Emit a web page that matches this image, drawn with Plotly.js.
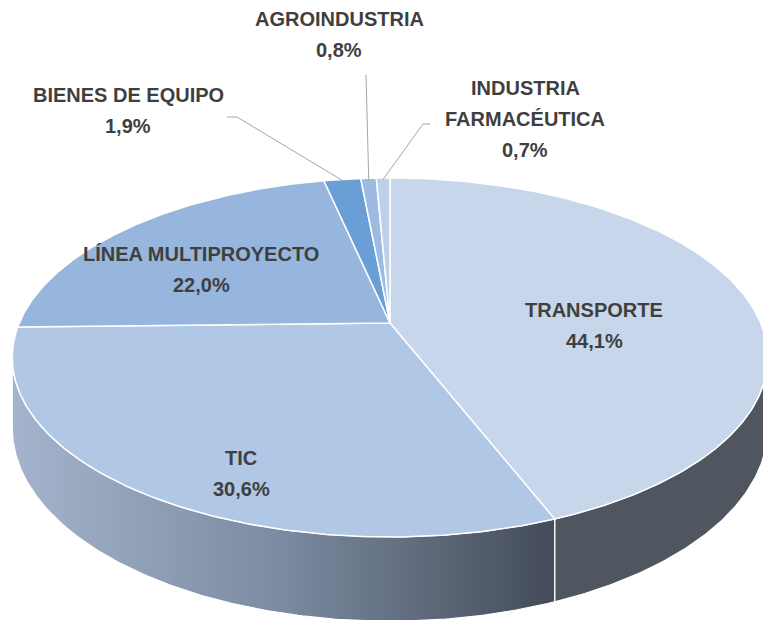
<!DOCTYPE html>
<html>
<head>
<meta charset="utf-8">
<script src="https://cdn.plot.ly/plotly-3.0.1.min.js"></script>
<style>html,body{margin:0;padding:0;background:#fff;}#chart{width:763px;height:620px;}</style>
</head>
<body>
<div id="chart"></div>
<script>
// ---- data ----
const categories = ['TRANSPORTE', 'TIC', 'LÍNEA MULTIPROYECTO', 'BIENES DE EQUIPO', 'AGROINDUSTRIA', 'INDUSTRIA FARMACÉUTICA'];
const shares = [44.1, 30.6, 22.0, 1.9, 0.8, 0.7];
const labelLines = [['TRANSPORTE'], ['TIC'], ['LÍNEA MULTIPROYECTO'], ['BIENES DE EQUIPO'], ['AGROINDUSTRIA'], ['INDUSTRIA', 'FARMACÉUTICA']];

// ---- styles ----
const topColors = ['#c7d6ea', '#b0c7e5', '#96b6dd', '#6a9fd5', '#9dbbe2', '#bcd0ea'];
const sideColors = ['#50565f', null, '#7f93b0', '#4f7fb0', '#7f93b0', '#7f93b0'];
const textColor = '#3f3f3f';
const FONT = 'Liberation Sans, Arial, sans-serif';
// label anchor (center x, first-line y) for each slice, in pixels
const labelPos = [[594, 310], [241, 458], [201, 254], [128, 95], [339, 19], [525, 88]];
const lineGap = 31;
// leader lines: start points (pixels) for outside labels
const leaderStart = {3: [[227, 117], [237, 117]], 4: [[366, 75]], 5: [[430, 124], [423, 124]]};

// ---- projection geometry (perspective tilted disc) ----
const G = {cx: 390, cy: 323, R: 370.7, S: 172.9, k: 0.192, D: 68};
function proj(r, phiDeg, drop) {
  const p = phiDeg * Math.PI / 180;
  const u = r * Math.sin(p), v = -r * Math.cos(p);
  const w = 1 - G.k * v;
  return [G.cx + G.R * u / w, G.cy + G.S * v / w + drop * G.D / w];
}
function arc(a0, a1, drop) {
  const pts = [];
  const n = Math.max(2, Math.ceil(Math.abs(a1 - a0) / 0.5));
  for (let i = 0; i <= n; i++) pts.push(proj(1, a0 + (a1 - a0) * i / n, drop));
  return pts;
}

const total = shares.reduce((a, b) => a + b, 0);
const starts = [], ends = [];
let acc = 0;
shares.forEach(s => { starts.push(acc / total * 360); acc += s; ends.push(acc / total * 360); });

const phiR = Math.acos(-G.k) * 180 / Math.PI;   // right silhouette
const phiL = 360 - phiR;                         // left silhouette

const traces = [];
// side walls
shares.forEach((s, i) => {
  const a0 = Math.max(starts[i], phiR), a1 = Math.min(ends[i], phiL);
  if (a1 <= a0) return;
  const top = arc(a0, a1, 0), bot = arc(a1, a0, 1);
  const pts = top.concat(bot); pts.push(top[0]);
  const tr = {
    type: 'scatter', mode: 'lines', fill: 'toself',
    x: pts.map(p => p[0]), y: pts.map(p => p[1]),
    line: {color: '#ffffff', width: 1.2},
    hoverinfo: 'skip', showlegend: false
  };
  if (i === 1) {
    tr.fillcolor = '#8090a8';
    tr.fillgradient = {type: 'horizontal', colorscale: [[0, '#a3b4cc'], [0.5, '#7b8aa0'], [1, '#434b58']], start: 12, stop: 557};
  } else {
    tr.fillcolor = sideColors[i];
  }
  traces.push(tr);
});
// top faces
shares.forEach((s, i) => {
  const c = proj(0, 0, 0);
  const pts = [c].concat(arc(starts[i], ends[i], 0)); pts.push(c);
  traces.push({
    type: 'scatter', mode: 'lines', fill: 'toself',
    x: pts.map(p => p[0]), y: pts.map(p => p[1]),
    fillcolor: topColors[i],
    line: {color: '#ffffff', width: 1.5},
    name: categories[i], hoverinfo: 'name', showlegend: false
  });
});
// leader lines
Object.keys(leaderStart).forEach(key => {
  const i = +key;
  const mid = (starts[i] + ends[i]) / 2;
  const end = proj(0.99, mid, 0);
  const pts = leaderStart[i].concat([end]);
  traces.push({
    type: 'scatter', mode: 'lines',
    x: pts.map(p => p[0]), y: pts.map(p => p[1]),
    line: {color: '#a6a6a6', width: 1},
    hoverinfo: 'skip', showlegend: false
  });
});

// labels
const annotations = [];
shares.forEach((s, i) => {
  const lines = labelLines[i].concat([s.toFixed(1).replace('.', ',') + '%']);
  lines.forEach((t, j) => {
    annotations.push({
      x: labelPos[i][0], y: labelPos[i][1] + j * lineGap, xref: 'x', yref: 'y',
      text: '<b>' + t + '</b>', showarrow: false, xanchor: 'center', yanchor: 'middle',
      font: {family: FONT, size: 20, color: textColor}
    });
  });
});

const layout = {
  width: 763, height: 620,
  margin: {l: 0, r: 0, t: 0, b: 0},
  paper_bgcolor: '#ffffff', plot_bgcolor: '#ffffff',
  xaxis: {range: [0, 763], visible: false, fixedrange: true},
  yaxis: {range: [620, 0], visible: false, fixedrange: true},
  showlegend: false,
  annotations: annotations,
  hovermode: 'closest'
};
Plotly.newPlot('chart', traces, layout, {displayModeBar: false, staticPlot: true});
</script>
</body>
</html>
